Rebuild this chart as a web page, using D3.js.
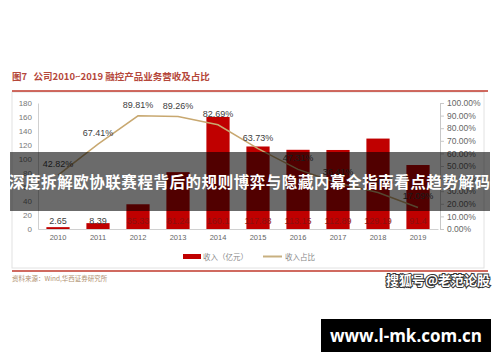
<!DOCTYPE html>
<html>
<head>
<meta charset="utf-8">
<script src="https://cdnjs.cloudflare.com/ajax/libs/d3/7.8.5/d3.min.js"></script>
<title>融控产品业务营收及占比</title>
<style>
  body{ margin:0; background:#fff; }
  text{ font-family: "Noto Sans CJK SC", "Liberation Sans", sans-serif; }
</style>
</head>
<body>
<script>
var years   = ["2010","2011","2012","2013","2014","2015","2016","2017","2018","2019"],
    revenue = [2.65, 8.39, 35.33, 81.24, 160.1, 117.88, 113.15, 112.89, 129.19, 91.4],
    share   = [0.4282, 0.6741, 0.8981, 0.8926, 0.8269, 0.6373, 0.4731, 0.3641, 0.2902, 0.1709],
    leftTicks  = [0,20,40,60,80,100,120,140,160,180],
    rightTicks = [0,0.1,0.2,0.3,0.4,0.5,0.6,0.7,0.8,0.9,1];

var svg = d3.select("body").append("svg")
    .attr("width", 500)
    .attr("height", 362);

var x = d3.scaleBand().domain(years).range([38, 438])
      .paddingInner(0.42).paddingOuter(0.21),
    yL = d3.scaleLinear().domain([0,180]).range([229,103]),
    yR = d3.scaleLinear().domain([0,1]).range([229,103]);

// title + frame
svg.append("text")
  .attr("x", 12).attr("y", 80)
  .attr("font-size", 9.5).attr("font-weight", "bold")
  .attr("fill", "#b5473a")
  .style("white-space", "pre")
  .text("图7   公司2010~2019 融控产品业务营收及占比");

svg.append("rect")
  .attr("x", 12).attr("y", 92).attr("width", 472).attr("height", 176)
  .attr("fill", "none").attr("stroke", "#e2e2e2");
svg.append("line").attr("x1", 12).attr("x2", 488).attr("y1", 91).attr("y2", 91)
  .attr("stroke", "#c0392b").attr("stroke-width", 1.6);
svg.append("line").attr("x1", 12).attr("x2", 488).attr("y1", 271).attr("y2", 271)
  .attr("stroke", "#c0392b").attr("stroke-width", 1.6);

// axes
var gl = svg.append("g").attr("transform", "translate(38,0)")
  .call(d3.axisLeft(yL).tickValues(leftTicks).tickSize(0).tickPadding(6));
gl.select(".domain").attr("stroke", "#d0d0d0");
gl.selectAll("text").attr("fill", "#777").attr("font-size", 8)
  .style("font-family", "Liberation Sans");

var gr = svg.append("g").attr("transform", "translate(440,0)")
  .call(d3.axisRight(yR).tickValues(rightTicks).tickSize(4).tickPadding(3)
    .tickFormat(d3.format(".2%")));
gr.select(".domain").attr("stroke", "#c8c8c8");
gr.selectAll("line").attr("stroke", "#c8c8c8");
gr.selectAll("text").attr("fill", "#666").attr("font-size", 8.5)
  .style("font-family", "Liberation Sans");

var gx = svg.append("g").attr("transform", "translate(0,229)")
  .call(d3.axisBottom(x).tickSize(0).tickPadding(6));
gx.select(".domain").attr("stroke", "#d0d0d0");
gx.selectAll("text").attr("fill", "#666").attr("font-size", 7.5)
  .style("font-family", "Liberation Sans");

// bars
svg.selectAll(".bar").data(revenue).enter().append("rect")
  .attr("class", "bar")
  .attr("x", function(d,i){ return x(years[i]); })
  .attr("y", function(d){ return yL(d); })
  .attr("width", x.bandwidth())
  .attr("height", function(d){ return yL(0) - yL(d); })
  .attr("fill", "#c00000");

svg.selectAll(".blab").data(revenue).enter().append("text")
  .attr("x", function(d,i){ return x(years[i]) + x.bandwidth()/2; })
  .attr("y", 224)
  .attr("text-anchor", "middle")
  .attr("font-size", 9)
  .style("font-family", "Liberation Sans")
  .attr("fill", function(d){ return d > 20 ? "#8a1010" : "#404040"; })
  .text(function(d){ return d; });

// share line
var line = d3.line()
  .x(function(d,i){ return x(years[i]) + x.bandwidth()/2; })
  .y(function(d){ return yR(d); });
svg.append("path").datum(share)
  .attr("d", line)
  .attr("fill", "none")
  .attr("stroke", "#c8a870")
  .attr("stroke-width", 1.5);

svg.selectAll(".plab").data(share).enter().append("text")
  .attr("x", function(d,i){ return x(years[i]) + x.bandwidth()/2; })
  .attr("y", function(d){ return yR(d) - 8; })
  .attr("text-anchor", "middle")
  .attr("font-size", 9)
  .style("font-family", "Liberation Sans")
  .attr("fill", "#404040")
  .text(function(d){ return d3.format(".2%")(d); });

// legend
svg.append("rect").attr("x", 183).attr("y", 254).attr("width", 18).attr("height", 5)
  .attr("fill", "#c00000");
svg.append("text").attr("x", 203).attr("y", 259.5).attr("font-size", 7.5)
  .attr("fill", "#888").text("收入（亿元）");
svg.append("line").attr("x1", 263).attr("x2", 282).attr("y1", 256.5).attr("y2", 256.5)
  .attr("stroke", "#c8b080").attr("stroke-width", 2);
svg.append("text").attr("x", 285).attr("y", 259.5).attr("font-size", 7.5)
  .attr("fill", "#888").text("收入占比");

// source
svg.append("text").attr("x", 12).attr("y", 281).attr("font-size", 6.5)
  .attr("fill", "#b09070").text("资料来源：Wind,华西证券研究所");

// overlay banner
svg.append("rect").attr("x", 10).attr("y", 152).attr("width", 480).attr("height", 59)
  .attr("fill", "rgba(0,0,0,0.58)");
svg.append("text").attr("x", 9).attr("y", 188)
  .attr("font-size", 15.5).attr("font-weight", "bold")
  .attr("textLength", 481).attr("lengthAdjust", "spacing")
  .attr("fill", "#fff")
  .text("深度拆解欧协联赛程背后的规则博弈与隐藏内幕全指南看点趋势解码");

// watermark
svg.append("text").attr("x", 490).attr("y", 285)
  .attr("text-anchor", "end")
  .attr("font-size", 13).attr("font-weight", "bold")
  .attr("fill", "#fff").attr("stroke", "#333").attr("stroke-width", 2)
  .attr("paint-order", "stroke")
  .text("搜狐号@老范论股");

// site box
svg.append("rect").attr("x", 321).attr("y", 319).attr("width", 170).attr("height", 33)
  .attr("fill", "#000");
svg.append("text").attr("x", 406).attr("y", 342)
  .attr("text-anchor", "middle")
  .attr("font-size", 17).attr("font-weight", "bold")
  .attr("fill", "#fff")
  .style("font-family", "Open Sans")
  .text("www.l-mk.com.cn");
</script>
</body>
</html>
